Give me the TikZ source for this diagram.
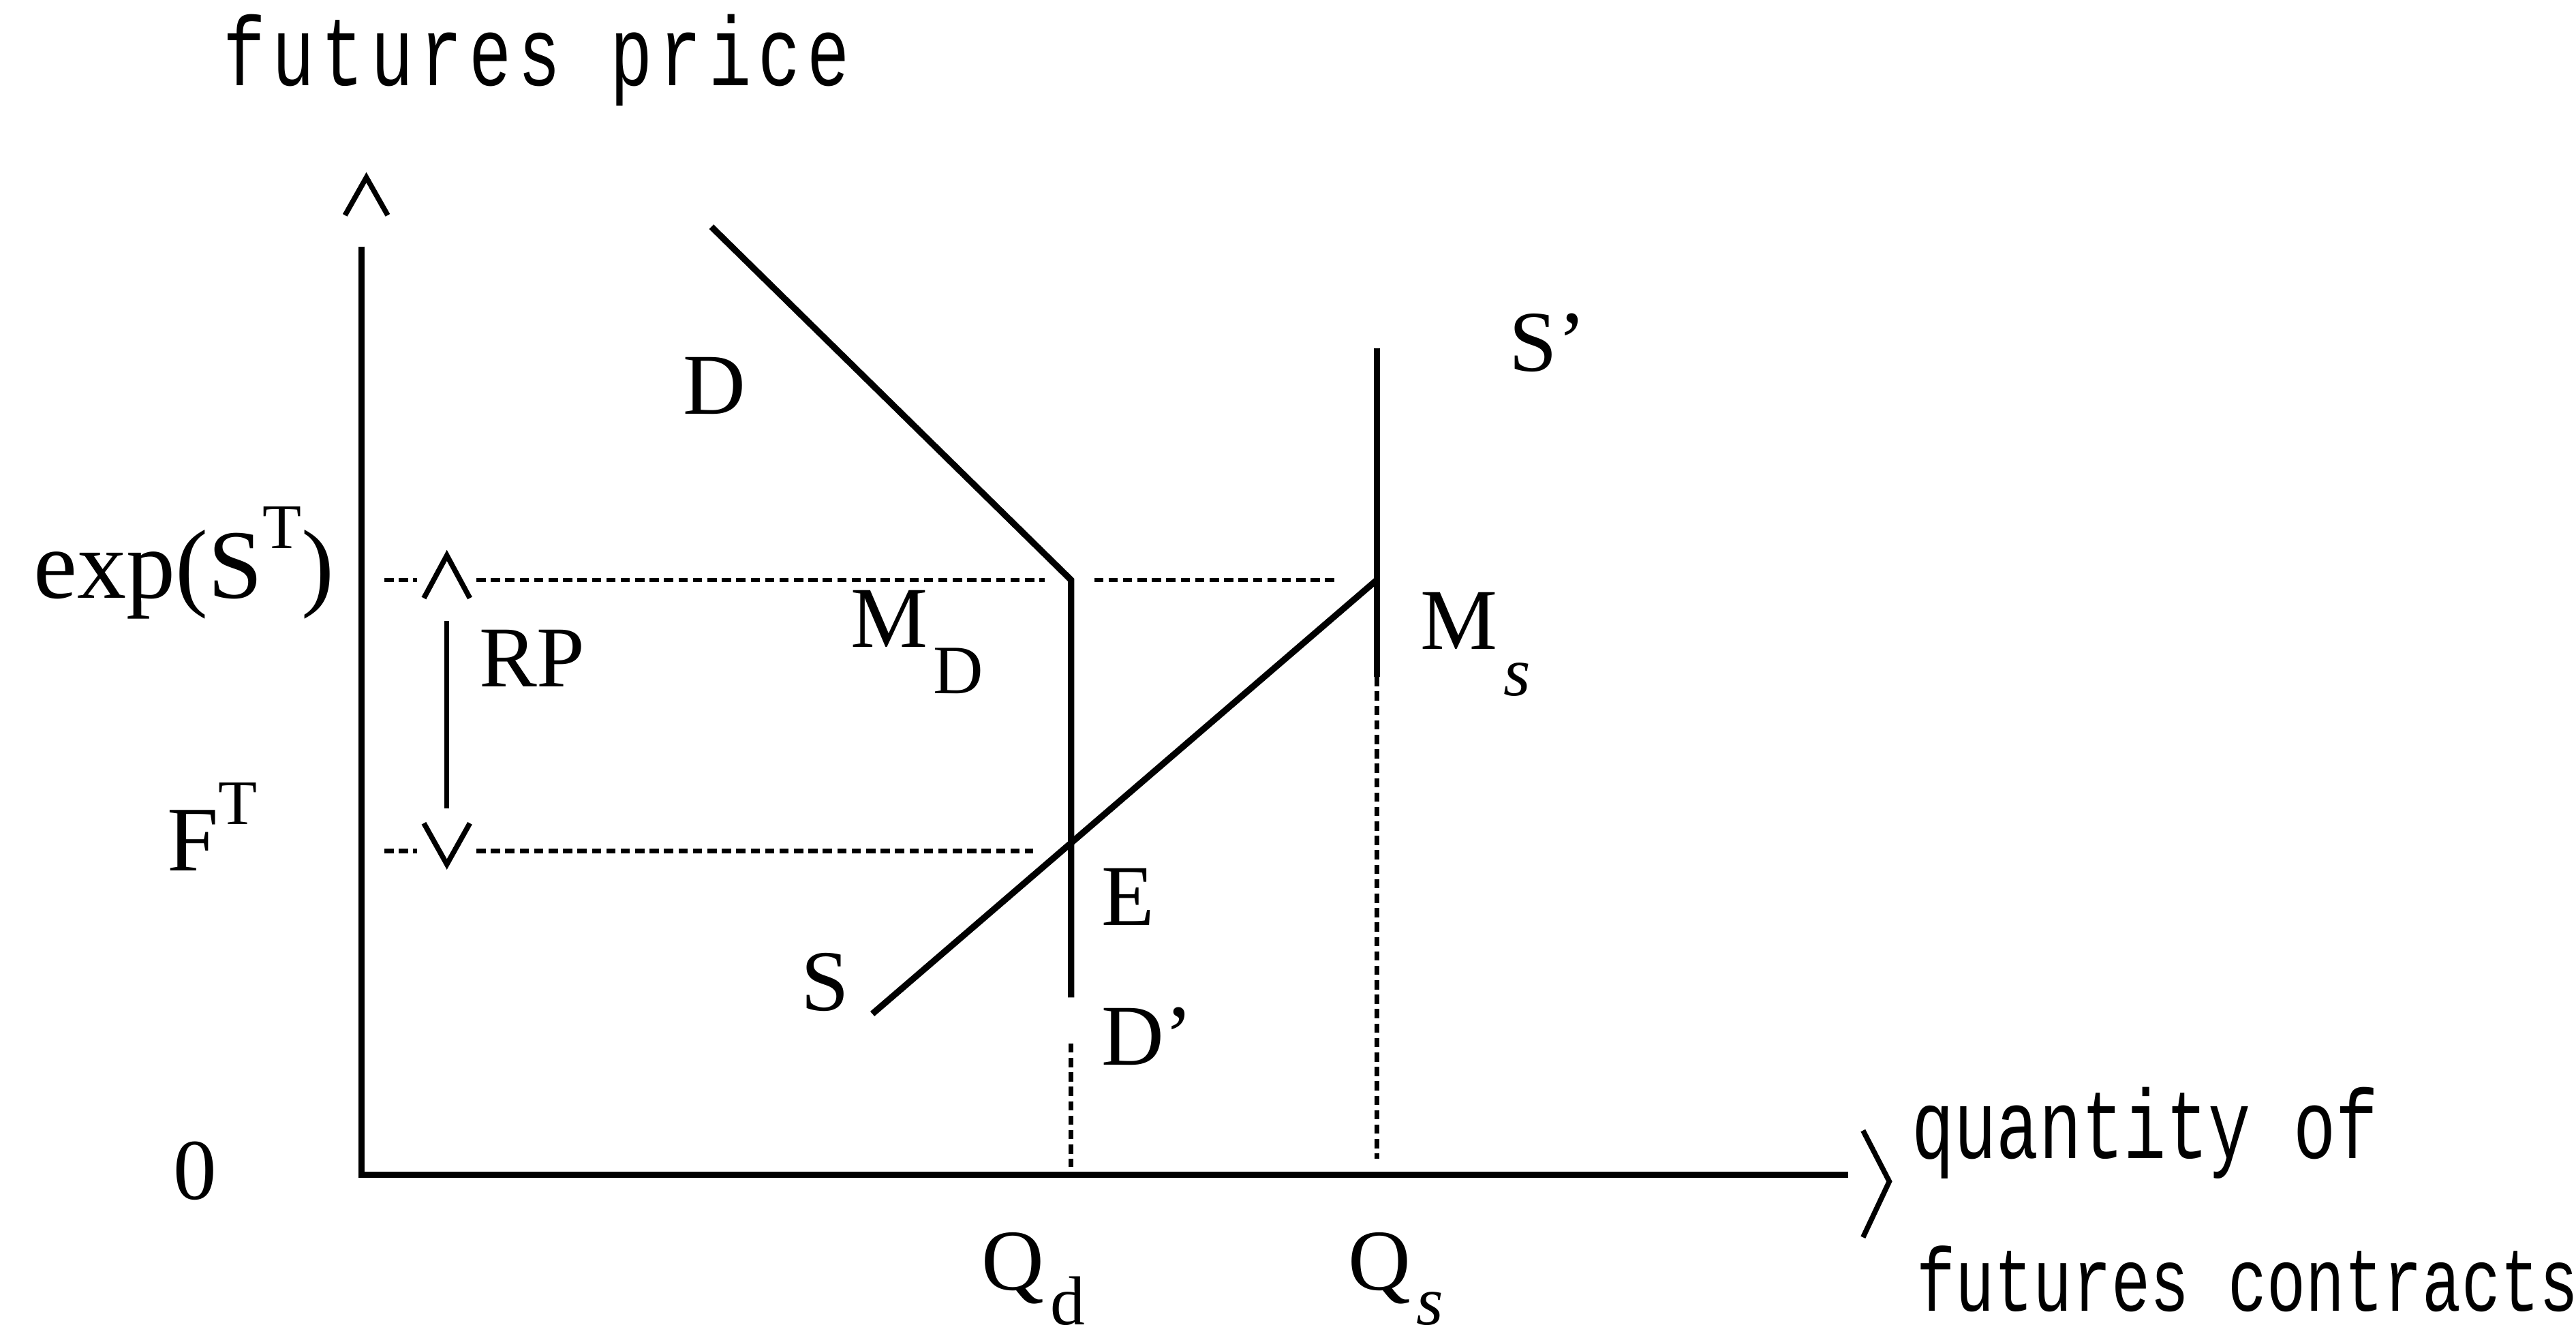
\documentclass[tikz,border=0pt]{standalone}
\usepackage{fontspec}
\setmainfont{Liberation Serif}
\newfontfamily\axfont[FakeStretch=0.72]{Liberation Mono}
\usetikzlibrary{positioning, calc}
\tikzset{
  axis/.style  = {line width=1.1pt},
  curve/.style = {line width=1.1pt},
  guide/.style = {line width=0.8pt, dash pattern=on 1.6pt off 0.9pt},
  chev/.style  = {line width=0.9pt, line join=miter},
  lab/.style   = {font=\fontsize{15}{17}\selectfont, inner sep=0pt, anchor=base west},
  ttl/.style   = {font=\axfont\fontsize{17}{19}\selectfont, inner sep=0pt, anchor=base west},
}
\newcommand{\lsub}[1]{\kern1pt\raisebox{-8pt}{\fontsize{12}{12}\selectfont #1}}
\newcommand{\hsup}[1]{\raisebox{1.1ex}{\fontsize{11}{11}\selectfont #1}}

\begin{document}
\begin{tikzpicture}[x=1cm, y=1cm]
  \useasboundingbox (0,0) rectangle (15.68,-8.14);

  % axes
  \coordinate (O)    at (2.20,-7.15);
  \coordinate (ytop) at (2.20,-1.50);
  \coordinate (xend) at (11.25,-7.15);
  \draw[axis] (ytop) -- (O) -- (xend);
  \draw[chev] (2.10,-1.31) -- (2.23,-1.08) -- (2.36,-1.31);
  \draw[chev] (11.34,-6.88) -- (11.50,-7.19) -- (11.34,-7.53);

  \node[ttl] (ttly) at (1.35,-0.52) {\addfontfeature{LetterSpace=7}futures price};
  \node[ttl] (ttlx1) at (11.63,-7.05) {quantity of};
  \node[ttl, font=\axfont\fontsize{15.6}{18}\selectfont] (ttlx2) at (11.66,-7.98) {futures contracts};

  % demand, supply and the two levels
  \coordinate (Dtop) at (4.33,-1.38);
  \coordinate (MD)   at (6.52,-3.53);
  \coordinate (Dbot) at (6.52,-6.07);
  \coordinate (E)    at (6.52,-5.18);
  \coordinate (Send) at (5.31,-6.17);
  \coordinate (Ms)   at (8.38,-3.53);
  \coordinate (Stop) at (8.38,-2.12);
  \coordinate (Sbrk) at (8.38,-4.12);

  \draw[curve] (Dtop) -- (MD) -- (Dbot);
  \draw[curve] (Send) -- (Ms);
  \draw[curve] (Stop) -- (Sbrk);
  \draw[guide] (Sbrk) -- (8.38,-7.05);
  \draw[guide] (6.52,-6.35) -- (6.52,-7.10);

  % price levels and risk premium
  \draw[guide] (2.34,-3.53) -- (2.54,-3.53);
  \draw[chev]  (2.58,-3.64) -- (2.72,-3.38) -- (2.86,-3.64);
  \draw[guide] (2.90,-3.53) -- (6.36,-3.53);
  \draw[guide] (6.66,-3.53) -- (8.15,-3.53);
  \draw[guide] (2.34,-5.18) -- (2.54,-5.18);
  \draw[chev]  (2.58,-5.01) -- (2.72,-5.26) -- (2.86,-5.01);
  \draw[guide] (2.90,-5.18) -- (6.29,-5.18);
  \draw[line width=0.8pt] (2.72,-3.78) -- (2.72,-4.92);

  \node[lab] (zero) at (1.05,-7.30) {0};
  \node[lab, font=\fontsize{17}{19}\selectfont] (exps) at (0.20,-3.64) {exp(S\hsup{T})};
  \node[lab, font=\fontsize{16}{18}\selectfont] (ft) at (1.01,-5.30) {F\hsup{T}};
  \node[lab] (rp) at (2.91,-4.18) {RP};
  \node[lab] (dlab) at (4.15,-2.52) {D};
  \node[lab] (sprime) at (9.18,-2.26) {S’};
  \node[lab] (mdlab) at (5.17,-3.94) {M\lsub{D}};
  \node[lab] (mslab) at (8.64,-3.95) {M\lsub{\textit{s}}};
  \node[lab] (elab) at (6.70,-5.63) {E};
  \node[lab] (slab) at (4.87,-6.15) {S};
  \node[lab] (dprime) at (6.70,-6.48) {D’};
  \node[lab] (qd) at (5.97,-7.85) {Q\kern1pt\raisebox{-6pt}{\fontsize{12}{12}\selectfont d}};
  \node[lab] (qs) at (8.20,-7.85) {Q\kern1pt\raisebox{-6pt}{\fontsize{12}{12}\selectfont\itshape s}};
\end{tikzpicture}
\end{document}
